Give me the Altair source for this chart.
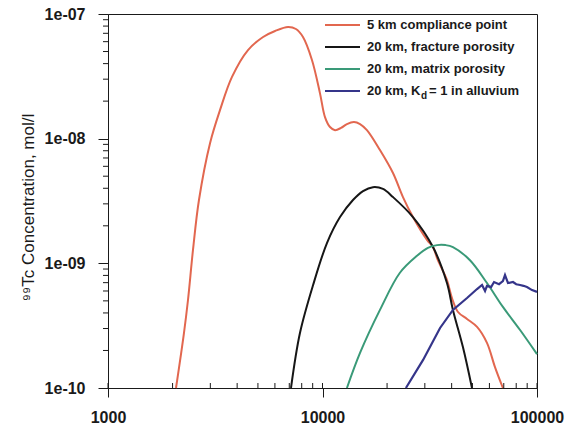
import math
import altair as alt
import pandas as pd

# ---- data (time in years, concentration in mol/l) ----
red_t = [2075, 2260, 2360, 2490, 2655, 2990, 3330, 3785, 4495, 5285, 6010, 6910, 7520, 8110,
         8930, 9730, 10270, 10840, 11440, 12200, 13000, 14020, 14960, 16110, 18530, 21310,
         23720, 26400, 30700, 32740, 34500, 38040, 40140, 42830, 47180, 52540, 58450, 63700, 69350]
red_c = [1e-10, 2.76e-10, 5.08e-10, 1.28e-9, 3.22e-9, 9.2e-9, 1.70e-8, 3.13e-8, 5.14e-8, 6.54e-8,
         7.31e-8, 7.87e-8, 7.58e-8, 6.54e-8, 4.28e-8, 2.32e-8, 1.49e-8, 1.24e-8, 1.17e-8, 1.22e-8,
         1.31e-8, 1.36e-8, 1.31e-8, 1.17e-8, 8.1e-9, 5.3e-9, 3.40e-9, 2.35e-9, 1.54e-9, 1.35e-9,
         1.06e-9, 7.35e-10, 5.27e-10, 4.07e-10, 3.58e-10, 3.09e-10, 2.30e-10, 1.47e-10, 1e-10]

black_t = [7130, 7850, 9040, 10500, 12070, 13870, 15450, 17190, 19140, 21310, 26400, 32740,
           38040, 40560, 45150, 49760]
black_c = [1e-10, 2.76e-10, 6.7e-10, 1.46e-9, 2.35e-9, 3.22e-9, 3.80e-9, 4.08e-9, 3.95e-9,
           3.40e-9, 2.35e-9, 1.35e-9, 6.95e-10, 4.23e-10, 2.13e-10, 1e-10]

green_t = [13000, 14960, 18530, 22960, 27580, 31000, 34190, 37500, 40560, 48700, 58450, 69350,
           83400, 100000]
green_c = [1e-10, 1.91e-10, 4.23e-10, 8.4e-10, 1.15e-9, 1.33e-9, 1.40e-9, 1.40e-9, 1.35e-9,
           1.06e-9, 6.95e-10, 4.47e-10, 2.92e-10, 1.87e-10]

blue_t = [24480, 29440, 35320, 40560, 47180, 52540, 55440, 57250, 58450, 61070, 63060, 66530,
          69350, 70930, 73250, 77290, 80000, 83400, 86500, 89800, 94800, 100000]
blue_c = [1e-10, 1.68e-10, 3.03e-10, 4.23e-10, 5.27e-10, 6.22e-10, 6.70e-10, 6.0e-10, 6.6e-10,
          6.45e-10, 7.08e-10, 6.8e-10, 7.2e-10, 8.05e-10, 6.95e-10, 7.08e-10, 6.8e-10, 6.7e-10,
          6.6e-10, 6.45e-10, 6.1e-10, 5.9e-10]

series = ["5 km compliance point", "20 km, fracture porosity", "20 km, matrix porosity",
          "20 km, Kd = 1 in alluvium"]
colors = ["#e2674f", "#161616", "#3a9a78", "#35358a"]

x_ticks = [1000, 10000, 100000]
x_tick_labels = ["1000", "10000", "100000"]
y_ticks = [1e-10, 1e-9, 1e-8, 1e-7]
y_tick_labels = ["1e-10", "1e-09", "1e-08", "1e-07"]
x_minor = [1000, 2000, 3000, 4000, 5000, 6000, 7000, 8000, 9000, 10000,
           20000, 30000, 40000, 50000, 60000, 70000, 80000, 90000, 100000]
y_minor = [2e-10, 3e-10, 4e-10, 5e-10, 6e-10, 7e-10, 8e-10, 9e-10,
           2e-9, 3e-9, 4e-9, 5e-9, 6e-9, 7e-9, 8e-9, 9e-9,
           2e-8, 3e-8, 4e-8, 5e-8, 6e-8, 7e-8, 8e-8, 9e-8]

# ---- tables ----
rows = []
for name, ts, cs in zip(series, [red_t, black_t, green_t, blue_t], [red_c, black_c, green_c, blue_c]):
    for t, c in zip(ts, cs):
        rows.append({"series": name, "t": t, "c": c})
df = pd.DataFrame(rows)
xminor_df = pd.DataFrame({"xv": x_minor})
yminor_df = pd.DataFrame({"yv": y_minor})

FONT = "Liberation Sans"
INK = "#1a1a1a"
W, H = 429, 374


def label_expr(vals, labs):
    parts = [f"abs(log(datum.value)/LN10 - ({math.log10(v):.4f})) < 0.01 ? '{l}'"
             for v, l in zip(vals, labs)]
    return " : ".join(parts) + " : ''"


xs = alt.Scale(type="log", domain=[1000, 100000])
ys = alt.Scale(type="log", domain=[1e-10, 1e-7])
cs = alt.Scale(domain=series, range=colors)

x_axis = alt.Axis(values=x_ticks, labelExpr=label_expr(x_ticks, x_tick_labels), title=None,
                  grid=False, tickSize=9, labelPadding=12, labelFont=FONT, labelFontSize=16,
                  labelFontWeight="bold", labelColor=INK, domainColor=INK,
                  tickColor=INK, labelFlush=False, labelOverlap=False)
y_axis = alt.Axis(values=y_ticks, labelExpr=label_expr(y_ticks, y_tick_labels), tickSize=10,
                  title="⁹⁹Tc Concentration, mol/l", grid=False, labelPadding=13,
                  labelFont=FONT, labelFontSize=16, labelFontWeight="bold", labelColor=INK,
                  domainColor=INK, tickColor=INK, labelFlush=False, labelOverlap=False,
                  titleFont=FONT, titleFontSize=17, titleFontWeight="normal", titleColor=INK,
                  titleX=-75, titleY=193, titleAngle=270, titleAlign="center",
                  titleBaseline="alphabetic")

smooth = alt.Chart(df).transform_filter(
    alt.FieldOneOfPredicate(field="series", oneOf=series[:3])
).mark_line(interpolate="catmull-rom", strokeWidth=2).encode(
    x=alt.X("t:Q", scale=xs, axis=x_axis),
    y=alt.Y("c:Q", scale=ys, axis=y_axis),
    color=alt.Color("series:N", scale=cs, legend=None),
    detail="series:N",
)

blue = alt.Chart(df).transform_filter(
    alt.FieldEqualPredicate(field="series", equal=series[3])
).mark_line(interpolate="linear", strokeWidth=2.2).encode(
    x=alt.X("t:Q", scale=xs, axis=None),
    y=alt.Y("c:Q", scale=ys, axis=None),
    color=alt.Color("series:N", scale=cs, legend=None),
)

# minor ticks: y outward on the left, x inward on the bottom
yminor = alt.Chart(yminor_df).mark_rule(color=INK, strokeWidth=1).encode(
    y=alt.Y("yv:Q", scale=ys, axis=None),
    x=alt.value(-5), x2=alt.value(0),
)
xminor = alt.Chart(xminor_df).mark_rule(color=INK, strokeWidth=1).encode(
    x=alt.X("xv:Q", scale=xs, axis=None),
    y=alt.value(H - 5), y2=alt.value(H),
)

# ---- hand-built legend (for the subscript d) ----
one = pd.DataFrame({"k": [0]})
leg_x0, leg_x1, leg_tx = 217, 252, 259
leg_y0, leg_dy = 11, 22
legend_layers = []


def txt(s, x, y, size=13):
    return alt.Chart(one).mark_text(text=s, align="left", baseline="middle", font=FONT,
                                    fontSize=size, fontWeight="bold", color=INK).encode(
        x=alt.value(x), y=alt.value(y))


for i, (name, col) in enumerate(zip(series, colors)):
    yy = leg_y0 + i * leg_dy
    legend_layers.append(
        alt.Chart(one).mark_rule(color=col, strokeWidth=2).encode(
            x=alt.value(leg_x0), x2=alt.value(leg_x1), y=alt.value(yy))
    )
    if i < 3:
        legend_layers.append(txt(name, leg_tx, yy))
    else:
        legend_layers.append(txt("20 km, K", leg_tx, yy))
        legend_layers.append(txt("d", leg_tx + 54, yy + 5, 10))
        legend_layers.append(txt("= 1 in alluvium", leg_tx + 62, yy))

chart = alt.layer(smooth, blue, yminor, xminor, *legend_layers).resolve_axis(
    x="independent", y="independent"
).properties(
    width=W, height=H,
    autosize=alt.AutoSizeParams(type="none"),
    padding={"left": 108, "top": 14, "right": 32, "bottom": 42},
    background="white",
).configure_view(stroke=INK, strokeWidth=1, clip=False)

chart.save("out.html", embed_options={"renderer": "svg", "actions": False})
